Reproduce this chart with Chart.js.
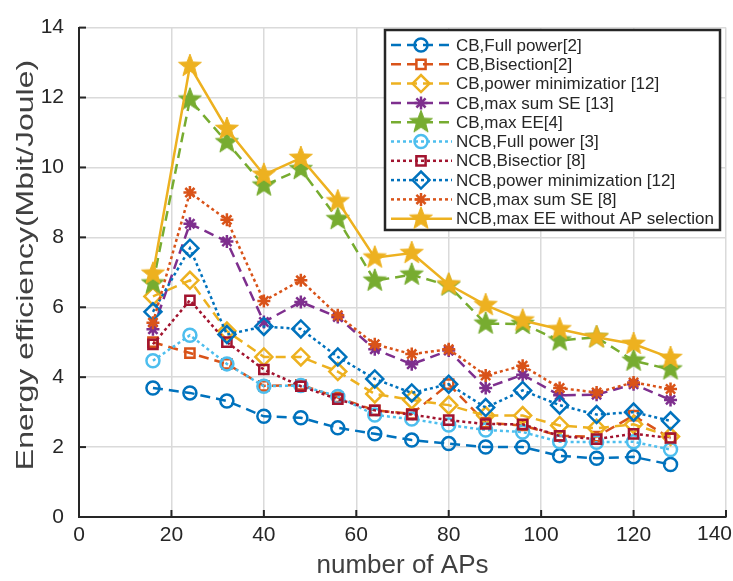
<!DOCTYPE html>
<html>
<head>
<meta charset="utf-8">
<title>Energy efficiency vs number of APs</title>
<script src="https://cdn.jsdelivr.net/npm/chart.js@4.4.1/dist/chart.umd.min.js"></script>
<style>
  html, body { margin: 0; padding: 0; background: #fff; }
</style>
</head>
<body>
<canvas id="mychart" width="733" height="581"></canvas>
<script>
// ---- data ----
const apNumbers = [16, 24, 32, 40, 48, 56, 64, 72, 80, 88, 96, 104, 112, 120, 128];

const cbFullPower   = [3.69, 3.55, 3.32, 2.88, 2.84, 2.55, 2.38, 2.20, 2.10, 2.00, 2.00, 1.75, 1.68, 1.72, 1.50];
const cbBisection   = [5.00, 4.69, 4.38, 3.75, 3.78, 3.42, 3.05, 2.95, 3.80, 2.70, 2.62, 2.32, 2.30, 2.90, 2.25];
const cbPowerMin    = [6.31, 6.77, 5.32, 4.58, 4.58, 4.16, 3.52, 3.35, 3.20, 2.90, 2.90, 2.62, 2.54, 2.65, 2.30];
const cbMaxSumSE    = [5.37, 8.39, 7.88, 5.58, 6.15, 5.72, 4.80, 4.37, 4.76, 3.69, 4.07, 3.48, 3.50, 3.80, 3.35];
const cbMaxEE       = [6.68, 11.94, 10.72, 9.48, 9.95, 8.52, 6.76, 6.93, 6.62, 5.53, 5.52, 5.05, 5.14, 4.47, 4.22];
const ncbFullPower  = [4.47, 5.20, 4.38, 3.74, 3.76, 3.45, 2.92, 2.80, 2.63, 2.49, 2.43, 2.15, 2.14, 2.15, 1.93];
const ncbBisection  = [4.94, 6.20, 5.00, 4.22, 3.74, 3.37, 3.05, 2.93, 2.77, 2.66, 2.65, 2.32, 2.23, 2.38, 2.26];
const ncbPowerMin   = [5.87, 7.69, 5.22, 5.45, 5.38, 4.58, 3.95, 3.55, 3.80, 3.13, 3.62, 3.20, 2.93, 3.00, 2.75];
const ncbMaxSumSE   = [5.56, 9.28, 8.50, 6.18, 6.77, 5.77, 4.94, 4.66, 4.80, 4.05, 4.33, 3.69, 3.56, 3.85, 3.66];
const ncbMaxEE      = [6.96, 12.90, 11.10, 9.79, 10.27, 9.03, 7.42, 7.55, 6.65, 6.06, 5.62, 5.37, 5.14, 4.95, 4.55];

const seriesLabels = [
  'CB,Full power[2]',
  'CB,Bisection[2]',
  'CB,power minimizatior [12]',
  'CB,max sum SE [13]',
  'CB,max EE[4]',
  'NCB,Full power [3]',
  'NCB,Bisectior [8]',
  'NCB,power minimization [12]',
  'NCB,max sum SE [8]',
  'NCB,max EE without AP selection'
];

const xTicks = [0, 20, 40, 60, 80, 100, 120, 140];
const yTicks = [0, 2, 4, 6, 8, 10, 12, 14];
const yTitle = 'Energy efficiency(Mbit/Joule)';
const xTitle = 'number of APs';

// ---- styling ----
const FONT = '"Liberation Sans", Arial, Helvetica, sans-serif';
const TEXT = '#262626';
const DASH = [10, 6];
const DOT = [3, 3];

function pentagram(color, r) {
  const c = document.createElement('canvas');
  const s = Math.ceil(r * 2 + 4);
  c.width = s; c.height = s;
  const g = c.getContext('2d');
  g.beginPath();
  for (let i = 0; i < 10; i++) {
    const rad = i % 2 === 0 ? r : r * 0.42;
    const a = -Math.PI / 2 + i * Math.PI / 5;
    g.lineTo(s / 2 + rad * Math.cos(a), s / 2 + rad * Math.sin(a));
  }
  g.closePath();
  g.fillStyle = color;
  g.fill();
  g.strokeStyle = color;
  g.lineWidth = 1;
  g.stroke();
  return c;
}

function toPoints(values) {
  return values.map((v, i) => ({ x: apNumbers[i], y: v }));
}

function series(label, values, color, dash, marker, radius, filled) {
  return {
    label: label,
    data: toPoints(values),
    borderColor: color,
    backgroundColor: color,
    borderWidth: 2.5,
    borderDash: dash,
    pointStyle: marker,
    pointRadius: radius,
    pointHoverRadius: radius,
    pointBorderWidth: 2.5,
    pointBorderColor: color,
    pointBackgroundColor: filled ? color : 'rgba(255,255,255,0)',
    tension: 0
  };
}

const datasets = [
  series(seriesLabels[0], cbFullPower, '#0072BD', DASH, 'circle', 6.5, false),
  series(seriesLabels[1], cbBisection, '#D95319', DASH, 'rect', 6.5, false),
  series(seriesLabels[2], cbPowerMin, '#EDB120', DASH, 'rectRot', 8.5, false),
  series(seriesLabels[3], cbMaxSumSE, '#7E2F8E', DASH, 'star', 6.5, false),
  series(seriesLabels[4], cbMaxEE, '#77AC30', DASH, pentagram('#77AC30', 12), 11, true),
  series(seriesLabels[5], ncbFullPower, '#4DBEEE', DOT, 'circle', 6.5, false),
  series(seriesLabels[6], ncbBisection, '#A2142F', DOT, 'rect', 6.5, false),
  series(seriesLabels[7], ncbPowerMin, '#0072BD', DOT, 'rectRot', 8.5, false),
  series(seriesLabels[8], ncbMaxSumSE, '#D95319', DOT, 'star', 6.5, false),
  series(seriesLabels[9], ncbMaxEE, '#EDB120', [], pentagram('#EDB120', 12), 11, true)
];
// later series on top, like the original plot
datasets.forEach((d, i) => { d.order = datasets.length - i; });

// inward tick marks, the last x label and the (tall, narrow) y title
const axisExtras = {
  id: 'axisExtras',
  afterDatasetsDraw(chart) {
    const { ctx, chartArea, scales } = chart;
    ctx.save();
    ctx.strokeStyle = TEXT;
    ctx.lineWidth = 2;
    yTicks.forEach(v => {
      const y = scales.y.getPixelForValue(v);
      ctx.beginPath(); ctx.moveTo(chartArea.left, y); ctx.lineTo(chartArea.left + 7, y); ctx.stroke();
    });
    xTicks.forEach(v => {
      const x = scales.x.getPixelForValue(v);
      ctx.beginPath(); ctx.moveTo(x, chartArea.bottom); ctx.lineTo(x, chartArea.bottom - 7); ctx.stroke();
    });
    // the 140 label sits flush against the right edge in the original
    ctx.fillStyle = TEXT;
    ctx.font = '21px ' + FONT;
    ctx.textAlign = 'right';
    ctx.textBaseline = 'top';
    ctx.fillText(String(xTicks[xTicks.length - 1]), 732, chartArea.bottom + 7);

    // y title, stretched along the axis as in the original picture
    ctx.fillStyle = '#404040';
    ctx.font = '32px ' + FONT;
    ctx.textAlign = 'center';
    ctx.textBaseline = 'middle';
    ctx.translate(26, 265);
    ctx.rotate(-Math.PI / 2);
    ctx.scale(1, 0.75);
    ctx.fillText(yTitle, 0, 0);
    ctx.restore();
  }
};

// boxed legend drawn inside the plot, top right
const insideLegend = {
  id: 'insideLegend',
  afterDraw(chart) {
    const ctx = chart.ctx;
    const x0 = 385, y0 = 30, w = 335, h = 200;
    const rowH = 19.3, firstY = 45;
    ctx.save();
    ctx.fillStyle = '#fff';
    ctx.fillRect(x0, y0, w, h);
    ctx.strokeStyle = TEXT;
    ctx.lineWidth = 2.5;
    ctx.strokeRect(x0, y0, w, h);
    chart.data.datasets.forEach((ds, i) => {
      const y = firstY + i * rowH;
      ctx.strokeStyle = ds.borderColor;
      ctx.lineWidth = ds.borderWidth;
      ctx.setLineDash(ds.borderDash || []);
      ctx.beginPath(); ctx.moveTo(391, y); ctx.lineTo(452, y); ctx.stroke();
      ctx.setLineDash([]);
      ctx.fillStyle = ds.pointBackgroundColor;
      ctx.strokeStyle = ds.pointBorderColor;
      ctx.lineWidth = ds.pointBorderWidth;
      Chart.helpers.drawPoint(ctx, {
        pointStyle: ds.pointStyle, radius: ds.pointRadius,
        borderWidth: ds.pointBorderWidth, rotation: 0
      }, 421, y);
      ctx.fillStyle = TEXT;
      ctx.font = '17px ' + FONT;
      ctx.textBaseline = 'middle';
      ctx.textAlign = 'left';
      ctx.fillText(ds.label, 456, y + 1);
    });
    ctx.restore();
  }
};

const context = document.getElementById('mychart').getContext('2d');
const chart = new Chart(context, {
  type: 'line',
  data: { datasets: datasets },
  options: {
    responsive: false,
    animation: false,
    devicePixelRatio: 1,
    layout: { autoPadding: false, padding: { top: 17, right: 7, left: 0, bottom: 0 } },
    plugins: {
      legend: { display: false },
      tooltip: { enabled: false }
    },
    scales: {
      x: {
        type: 'linear',
        min: 0, max: 140,
        afterFit: (s) => { s.height = 64; s.paddingRight = 0; },
        afterBuildTicks: (s) => { s.ticks = xTicks.map(v => ({ value: v })); },
        ticks: {
          color: TEXT, font: { family: FONT, size: 21 }, padding: 6, maxRotation: 0,
          callback: (v) => (v === 140 ? '' : String(v))
        },
        grid: { color: '#dadada', lineWidth: 1.5, drawTicks: false },
        border: { color: TEXT, width: 2 },
        title: {
          display: true, text: xTitle, color: '#404040',
          font: { family: FONT, size: 26 }, padding: { top: 0, bottom: 0 }
        }
      },
      y: {
        min: 0, max: 14,
        afterFit: (s) => { s.width = 79; },
        afterBuildTicks: (s) => { s.ticks = yTicks.map(v => ({ value: v })); },
        ticks: { color: TEXT, font: { family: FONT, size: 21 }, padding: 15 },
        grid: { color: '#dadada', lineWidth: 1.5, drawTicks: false },
        border: { color: TEXT, width: 2 },
        title: { display: false }
      }
    }
  },
  plugins: [axisExtras, insideLegend]
});
</script>
</body>
</html>
